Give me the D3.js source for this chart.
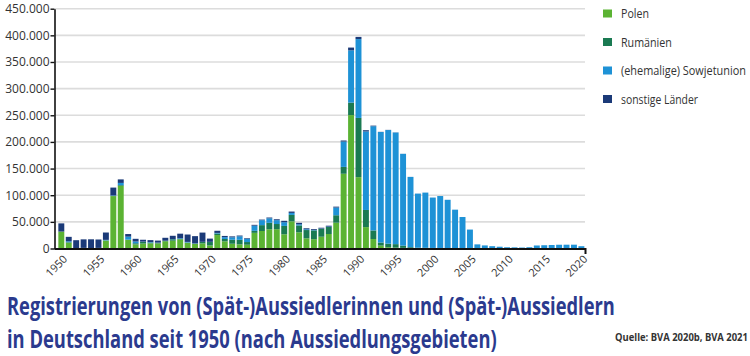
<!DOCTYPE html>
<html><head><meta charset="utf-8">
<script src="https://cdn.jsdelivr.net/npm/d3@7"></script>
<style>
html,body{margin:0;padding:0;background:#fff;}
svg{display:block;}
text{font-family:"Open Sans",sans-serif;}
</style></head>
<body><svg id="c" width="750" height="356"></svg>
<script>
const years = d3.range(1950, 2021);
const polen = [31761,10791,194,1000,700,900,15000,98290,117550,16252,
 7739,9303,9657,9522,13611,14644,17315,10856,8435,9536,
 5624,25241,13476,8903,7825,7040,29364,32857,36102,36274,
 26637,50983,30355,19121,17455,22075,27188,48423,140226,250340,
 133872,40129,17742,5431,2440,1677,1175,687,488,428,
 484,623,553,444,278,80,80,70,47,19,
 14,9,10,12,6,6,8,3,4,3,3];
const rumaenien = [13,1031,26,50,50,50,200,400,1400,400,
 2124,3303,1675,1321,818,2715,609,440,614,2675,
 6519,2848,4374,7577,8484,5077,3766,10989,12120,9663,
 15767,12031,12972,15501,16553,14924,13130,13990,12902,23387,
 111150,32178,16146,5811,6615,6519,4284,1777,1005,855,
 547,380,256,137,76,39,40,20,9,9,
 2,1,1,2,1,1,2,1,1,1,1];
const sowjetunion = [8,1721,63,100,20,150,1000,923,4122,5563,
 3272,345,894,209,234,366,1245,1092,598,316,
 342,1145,3426,4494,6541,5985,9704,9274,8455,7226,
 6954,3773,2071,1447,913,460,753,14488,47572,98134,
 147950,147320,195576,207347,213214,209409,172181,131895,101550,103599,
 94558,97434,90587,72289,58728,35396,7626,5695,4301,3329,
 2334,2138,1806,2415,5642,6111,6578,7055,7121,7151,4305];
const sonstige = [15383,8334,15300,16000,16500,15800,13800,14700,6600,4900,
 5036,3463,3507,3817,5436,6142,8644,13839,13554,17346,
 6105,4038,2304,1758,1465,1225,1568,1131,1453,1724,
 2626,2549,2772,1856,1538,1509,1717,1622,1973,5194,
 4101,2368,1101,299,322,293,111,60,37,34,
 26,47,20,15,11,7,1,7,5,3,
 0,0,0,0,0,0,0,0,0,0,0];
const seriesNames = ["Polen","Rumänien","(ehemalige) Sowjetunion","sonstige Länder"];
const seriesKeys = ["polen","rumaenien","sowjetunion","sonstige"];
const colors = ["#5bb333","#1a7a52","#1e92d6","#1b3a78"];
const yTicks = [0,50000,100000,150000,200000,250000,300000,350000,400000,450000];
const xLabelYears = [1950,1955,1960,1965,1970,1975,1980,1985,1990,1995,2000,2005,2010,2015,2020];

const rows = years.map((y,i)=>({year:y,polen:polen[i],rumaenien:rumaenien[i],sowjetunion:sowjetunion[i],sonstige:sonstige[i]}));
const stack = d3.stack().keys(seriesKeys)(rows);

const svg = d3.select("#c");
const x = d3.scaleBand().domain(years).range([57.6,585.1]).paddingInner(0.2).paddingOuter(0.1);
const y = d3.scaleLinear().domain([0,450000]).range([248.5,8.7]);
const fmt = d3.format(",");
const de = v => fmt(v).replace(/,/g,".");

// gridlines
svg.append("g").selectAll("line").data(yTicks.filter(d=>d>0)).join("line")
  .attr("x1",55).attr("x2",585).attr("y1",d=>y(d)).attr("y2",d=>y(d))
  .attr("stroke","#dcdcdc").attr("stroke-width",1.6);

// bars
svg.append("g").selectAll("g").data(stack).join("g")
  .attr("fill",(d,i)=>colors[i])
  .selectAll("rect").data(d=>d).join("rect")
  .attr("x",d=>x(d.data.year)).attr("width",x.bandwidth())
  .attr("y",d=>y(d[1])).attr("height",d=>Math.max(0,y(d[0])-y(d[1])));

// y axis
const ya = svg.append("g").attr("transform","translate(54.5,0)")
  .call(d3.axisLeft(y).tickValues(yTicks).tickFormat(de).tickSize(4).tickSizeOuter(0));
ya.select(".domain").attr("stroke","#111").attr("stroke-width",1.6);
ya.selectAll(".tick line").attr("stroke","#111").attr("stroke-width",1.4);
ya.selectAll("text").attr("font-family","'Open Sans',sans-serif").attr("font-size",12).attr("fill","#333").attr("x",-5);

// x axis
const xa = svg.append("g").attr("transform","translate(0,249)")
  .call(d3.axisBottom(x).tickValues(xLabelYears).tickSizeInner(0).tickSizeOuter(5).tickFormat(d3.format("d")));
xa.select(".domain").attr("stroke","#111").attr("stroke-width",2)
  .attr("d","M54.5,0H585.5V5");
xa.selectAll("text").attr("font-family","'Open Sans',sans-serif").attr("font-size",11).attr("fill","#333")
  .attr("text-anchor","end").attr("dy","0.35em")
  .attr("transform","translate(4,8) rotate(-45)").attr("y",0).attr("x",0);

// helper: place text and squeeze horizontally to a target width
function fitText(sel, tx, ty, target){
  const len = sel.node().getComputedTextLength();
  const s = Math.min(1, target/len);
  sel.attr("x",0).attr("y",0).attr("transform",`translate(${tx},${ty}) scale(${s},1)`);
}

// legend
const legendW = [28,51,125,77];
const lg = svg.append("g");
seriesNames.forEach((n,i)=>{
  const yy = 9.5 + i*28.5;
  lg.append("rect").attr("x",603).attr("y",yy).attr("width",9).attr("height",8).attr("fill",colors[i]);
  const t = lg.append("text").attr("font-family","Lato, sans-serif").attr("font-size",12.5).attr("fill","#333").text(n);
  fitText(t, 621, yy+8.5, legendW[i]);
});

// title
const title = ["Registrierungen von (Spät-)Aussiedlerinnen und (Spät-)Aussiedlern","in Deutschland seit 1950 (nach Aussiedlungsgebieten)"];
const tw = [608,490];
const ty = [315,347.5];
title.forEach((t,i)=>{
  const el = svg.append("text").attr("font-family","Roboto, sans-serif").attr("font-size",25.5).attr("font-weight",700)
   .attr("fill","#2b3a8e").text(t);
  fitText(el, 7, ty[i], tw[i]);
});
const src = svg.append("text").attr("font-family","Roboto, sans-serif").attr("font-size",10).attr("font-weight",700)
  .attr("fill","#333").text("Quelle: BVA 2020b, BVA 2021");
fitText(src, 615, 341, 133);
</script></body></html>
